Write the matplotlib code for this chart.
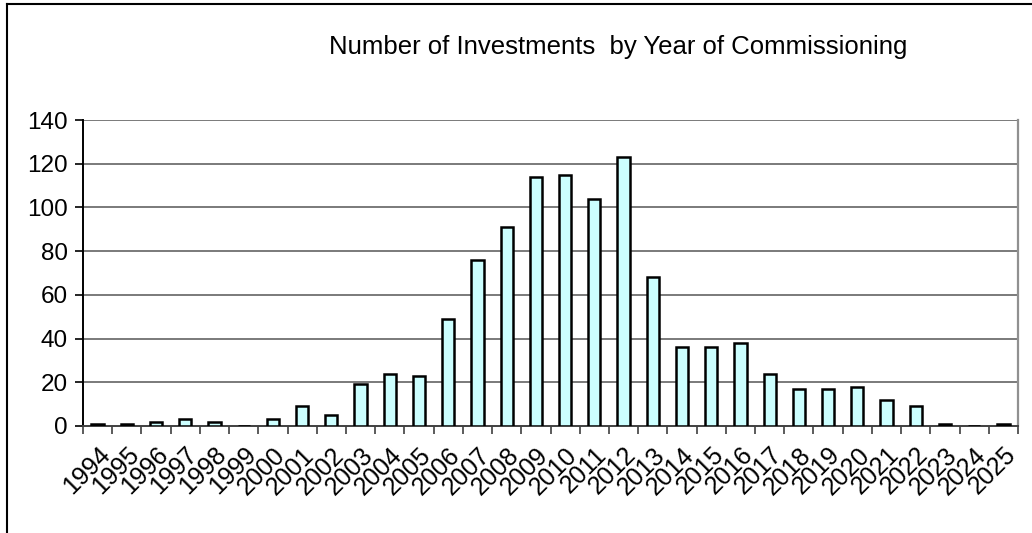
import numpy as np
import matplotlib
matplotlib.use("Agg")
import matplotlib.pyplot as plt
from matplotlib.lines import Line2D

plt.rcParams['font.family'] = ['Liberation Sans', 'DejaVu Sans']

years = [str(y) for y in range(1994, 2026)]
counts = [1, 1, 2, 3, 2, 0, 3, 9, 5, 19, 24, 23, 49, 76, 91, 114,
          115, 104, 123, 68, 36, 36, 38, 24, 17, 17, 18, 12, 9, 1, 0, 1]
y_ticks = [0, 20, 40, 60, 80, 100, 120, 140]

W, H = 1032, 533
fig = plt.figure(figsize=(W / 100, H / 100), dpi=100)
ax = fig.add_axes([83 / W, 1 - 426 / H, (1018 - 83) / W, (426 - 120) / H])

x = np.arange(len(years))
ax.bar(x, counts, width=0.42, color="#CCFFFF", edgecolor="black",
       linewidth=1.8, zorder=3)

ax.set_xlim(-0.5, len(years) - 0.5)
ax.set_ylim(0, 140)
ax.set_yticks(y_ticks)
ax.set_yticklabels([str(v) for v in y_ticks], fontsize=17.5)
for v in y_ticks[1:]:
    ax.axhline(v, color="#707070", lw=1.3, zorder=1)

# category ticks on boundaries, labels centered on bars
ax.set_xticks(np.arange(len(years) + 1) - 0.5)
ax.set_xticklabels([])
ax.set_xticks(x, minor=True)
ax.set_xticklabels(years, minor=True, rotation=45, ha="right",
                   rotation_mode="anchor", fontsize=18)
ax.tick_params(axis="x", which="minor", length=0, pad=12)
ax.tick_params(axis="x", which="major", length=6, width=1.2, color="#404040")
ax.tick_params(axis="y", length=6, width=1.2, direction="out", pad=5)

ax.spines["top"].set_visible(False)
ax.spines["right"].set_color("#909090")
ax.spines["right"].set_linewidth(1.6)
ax.spines["left"].set_linewidth(1.4)
ax.spines["bottom"].set_color("#404040")
ax.spines["bottom"].set_linewidth(1.4)

fig.text(618 / W, 1 - 47 / H, "Number of Investments  by Year of Commissioning",
         ha="center", va="center", fontsize=18.5)

# outer chart frame (left and top edges visible)
fig.add_artist(Line2D([7 / W, 7 / W], [0, 1 - 4 / H], color="black", lw=1.5,
                      transform=fig.transFigure))
fig.add_artist(Line2D([7 / W, 1], [1 - 4 / H, 1 - 4 / H], color="black", lw=1.5,
                      transform=fig.transFigure))

fig.savefig("out.png", dpi=100)
